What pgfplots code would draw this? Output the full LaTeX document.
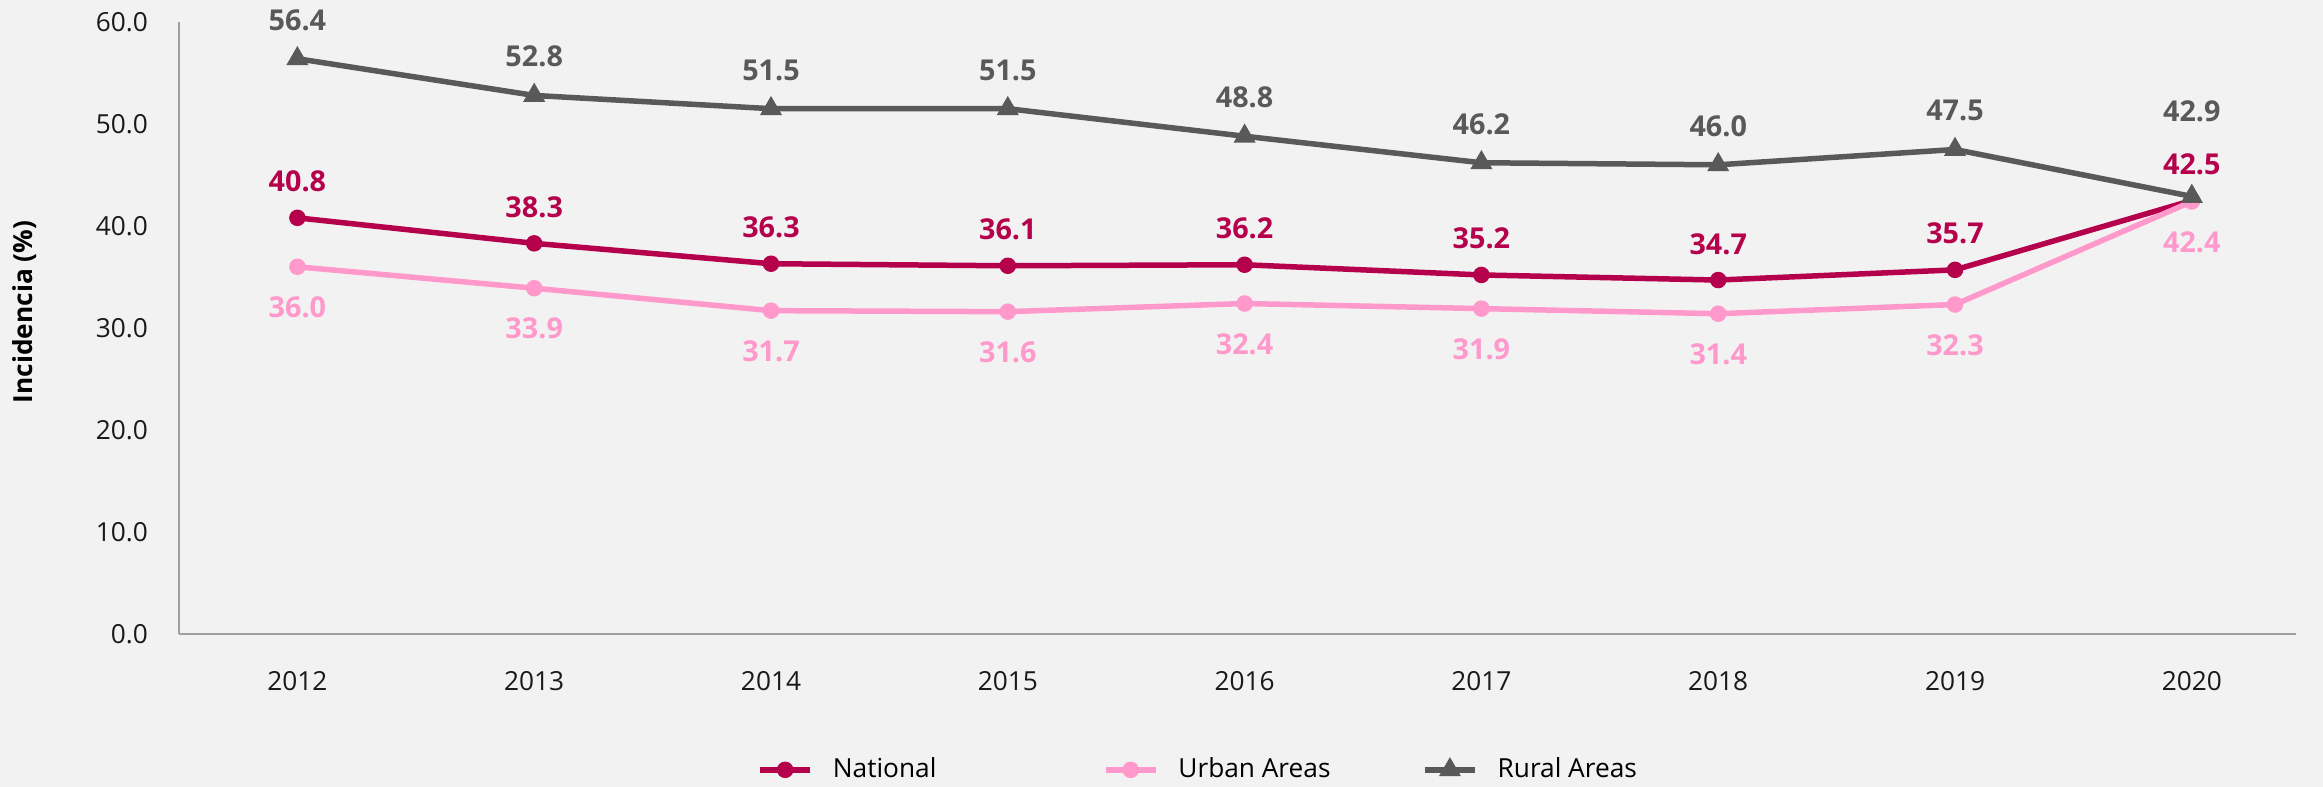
\documentclass[border=0pt]{standalone}
\usepackage{fontspec}
\setmainfont{Open Sans}
\usepackage{pgfplots}
\pgfplotsset{compat=1.18}
\definecolor{bgc}{HTML}{F2F2F2}
\definecolor{natc}{HTML}{B5004B}
\definecolor{urbc}{HTML}{FF99CC}
\definecolor{rurc}{HTML}{595959}
\definecolor{axc}{HTML}{A0A0A0}
\pgfplotsset{/pgf/number format/assume math mode=true}
\begin{document}
\begin{tikzpicture}
\fill[bgc] (0,0) rectangle (929.2pt,314.8pt);
\begin{axis}[
  at={(71.6pt,61.2pt)}, anchor=south west,
  width=846.8pt, height=244.8pt, scale only axis,
  xmin=-0.5, xmax=8.44, ymin=0, ymax=60,
  axis x line*=bottom, axis y line*=left,
  axis line style={axc, line width=0.6pt},
  major tick length=0pt,
  xtick={0,...,8},
  xticklabels={2012,2013,2014,2015,2016,2017,2018,2019,2020},
  ytick={0,10,...,60},
  yticklabel={\pgfmathprintnumber[fixed,fixed zerofill,precision=1]{\tick}},
  ticklabel style={font=\fontsize{10.5}{12}\selectfont, text=black!90},
  xticklabel style={yshift=-11.5pt},
  yticklabel style={xshift=-8.9pt},
  clip=false,
  nodes near coords={\pgfmathprintnumber[fixed,fixed zerofill,precision=1]{\pgfplotspointmeta}},
  every node near coord/.append style={anchor=center, font=\fontsize{11.5}{13}\selectfont\bfseries},
  legend columns=3,
  legend style={draw=none, fill=none, inner sep=0pt, at={(0.273,-0.222)}, anchor=west,
    font=\fontsize{10.5}{12}\selectfont,
    /tikz/every odd column/.append style={column sep=6pt}},
  legend image code/.code={\draw[mark repeat=2,mark phase=2,#1] plot coordinates {(0pt,0pt) (10pt,0pt) (20pt,0pt)};},
]
\addplot[natc, line width=2.2pt, mark=*, mark size=2.9pt, mark options={line width=0.8pt},
  every node near coord/.append style={text=natc, yshift=14.5pt}]
  coordinates {(0,40.8) (1,38.3) (2,36.3) (3,36.1) (4,36.2) (5,35.2) (6,34.7) (7,35.7) (8,42.5)};
\addlegendentry{\makebox[106pt][l]{National}}
\addplot[urbc, line width=2.2pt, mark=*, mark size=2.9pt, mark options={line width=0.8pt},
  every node near coord/.append style={text=urbc, yshift=-16.2pt}]
  coordinates {(0,36.0) (1,33.9) (2,31.7) (3,31.6) (4,32.4) (5,31.9) (6,31.4) (7,32.3) (8,42.4)};
\addlegendentry{\makebox[95.5pt][l]{Urban Areas}}
\addplot[rurc, line width=2.2pt, mark=triangle*, mark size=4.5pt, mark options={line width=0.6pt},
  nodes near coords={}]
  coordinates {(0,56.4) (1,52.8) (2,51.5) (3,51.5) (4,48.8) (5,46.2) (6,46.0) (7,47.5) (8,42.9)};
\addlegendentry{Rural Areas}
\addplot[draw=none, forget plot,
  every node near coord/.append style={text=rurc, yshift=15.5pt}]
  coordinates {(0,56.4) (1,52.8) (2,51.5) (3,51.5) (4,48.8) (5,46.2) (6,46.0) (7,47.5)};
\addplot[draw=none, forget plot,
  every node near coord/.append style={text=rurc, yshift=34pt}]
  coordinates {(8,42.9)};
\end{axis}
\node[rotate=90, font=\fontsize{10.5}{12}\selectfont\bfseries, text=black] at (10pt,190pt) {Incidencia (\%)};
\pgfresetboundingbox
\useasboundingbox (0,0) rectangle (929.2pt,314.8pt);
\end{tikzpicture}
\end{document}
